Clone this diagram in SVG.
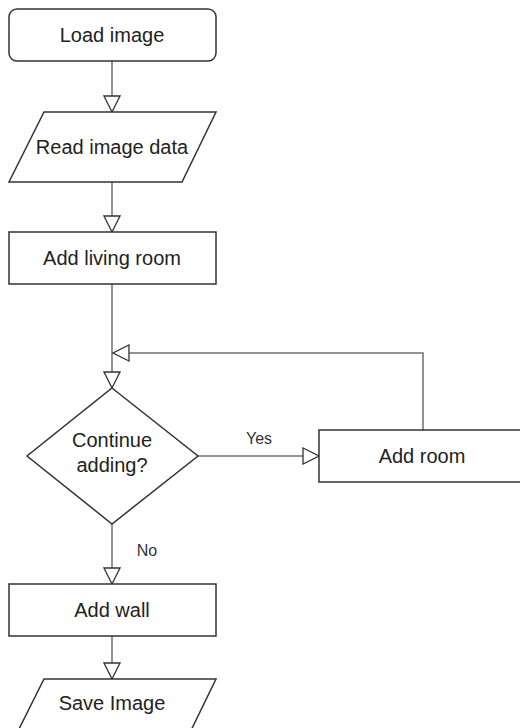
<svg xmlns="http://www.w3.org/2000/svg" width="520" height="728" viewBox="0 0 520 728">
<style>
.shape{fill:#fff;stroke:#333;stroke-width:1.5}
.conn{fill:none;stroke:#707070;stroke-width:1.5}
.t{font-family:"Liberation Sans",Arial,sans-serif;font-size:20px;fill:#222;text-anchor:middle;dominant-baseline:central}
.lbl{font-family:"Liberation Sans",Arial,sans-serif;font-size:16px;fill:#333;text-anchor:middle;dominant-baseline:central}
</style>
<defs>
<marker id="tri" viewBox="0 0 18 18" refX="17" refY="9" markerWidth="18" markerHeight="18" markerUnits="userSpaceOnUse" orient="auto">
<path d="M1,1 L17,9 L1,17 Z" fill="#fff" stroke="#333" stroke-width="1.3"/>
</marker>
</defs>
<rect width="520" height="728" fill="#fff"/>
<g id="connectors">
<path class="conn" d="M112,61 V112" marker-end="url(#tri)"/>
<path class="conn" d="M112,182 V232" marker-end="url(#tri)"/>
<path class="conn" d="M112,284 V388" marker-end="url(#tri)"/>
<path class="conn" d="M198,456 H319" marker-end="url(#tri)"/>
<path class="conn" d="M423,430 V353 H113" marker-end="url(#tri)"/>
<path class="conn" d="M112,524 V584" marker-end="url(#tri)"/>
<path class="conn" d="M112,636 V679" marker-end="url(#tri)"/>
<text class="lbl" x="259" y="438">Yes</text>
<text class="lbl" x="147" y="550">No</text>
</g>
<g id="load-image">
<rect class="shape" x="9" y="9" width="207" height="52" rx="8"/>
<text class="t" x="112" y="35">Load image</text>
</g>
<g id="read-image-data">
<polygon class="shape" points="44,112 216,112 182,182 9,182"/>
<text class="t" x="112" y="147">Read image data</text>
</g>
<g id="add-living-room">
<rect class="shape" x="9" y="232" width="207" height="52"/>
<text class="t" x="112" y="258">Add living room</text>
</g>
<g id="continue-adding">
<polygon class="shape" points="112,388 198,456 112,524 27,456"/>
<text class="t" x="112" y="440">Continue</text>
<text class="t" x="112" y="465">adding?</text>
</g>
<g id="add-room">
<rect class="shape" x="319" y="430" width="207" height="52"/>
<text class="t" x="422" y="456">Add room</text>
</g>
<g id="add-wall">
<rect class="shape" x="9" y="584" width="207" height="52"/>
<text class="t" x="112" y="610">Add wall</text>
</g>
<g id="save-image">
<polygon class="shape" points="44,679 216,679 182,749 9,749"/>
<text class="t" x="112" y="703">Save Image</text>
</g>
</svg>
